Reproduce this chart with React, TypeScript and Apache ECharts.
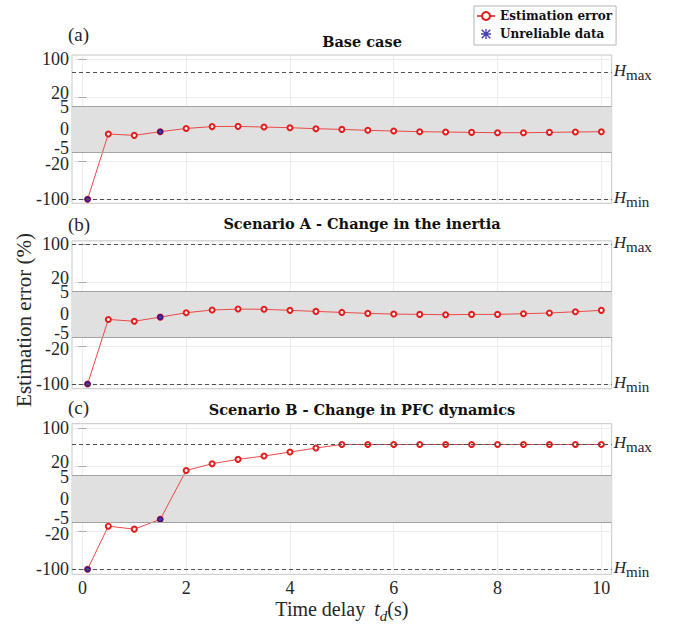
import React, { useEffect, useRef } from 'react';
import * as echarts from 'echarts';

// ---------- data ----------
const timeDelay = [0.1, 0.5, 1, 1.5, 2, 2.5, 3, 3.5, 4, 4.5, 5, 5.5, 6, 6.5, 7, 7.5, 8, 8.5, 9, 9.5, 10];
const errBaseCase = [-100, -1.0, -1.3, -0.5, 0.2, 0.6, 0.65, 0.5, 0.37, 0.15, 0.0, -0.2, -0.35, -0.5, -0.57, -0.65, -0.72, -0.72, -0.65, -0.57, -0.5];
const errScenarioA = [-100, -1.1, -1.5, -0.6, 0.36, 0.94, 1.15, 1.1, 0.87, 0.65, 0.43, 0.22, 0.07, 0, -0.07, 0, 0, 0.15, 0.3, 0.57, 0.87];
const errScenarioB = [-100, -11.5, -16.3, -4.4, 13.3, 25.5, 34.7, 41.7, 50, 58.5, 66, 66, 66, 66, 66, 66, 66, 66, 66, 66, 66];
const unreliableIdx = [0, 3];
const hMaxValues = [71.5, 100, 66];
const hMinValue = -100;
const bandLimit = 5;
const yTickValues = [-100, -20, -5, 0, 5, 20, 100];
const yTickLabels = ['-100', '-20', '-5', '0', '5', '20', '100'];
const xTickValues = [0, 2, 4, 6, 8, 10];
const xTickLabels = ['0', '2', '4', '6', '8', '10'];
const panelTitles = ['Base case', 'Scenario A - Change in the inertia', 'Scenario B - Change in PFC dynamics'];
const panelTags = ['(a)', '(b)', '(c)'];
const panelSeries = [errBaseCase, errScenarioA, errScenarioB];

// display scale of the y axis (piecewise, like the symmetric-log style axis of the figure)
const yScaleKnots = [-70, -32.3, -23, 0, 23.3, 32.6, 70.5];
function tf(v: number): number {
  const V = yTickValues, K = yScaleKnots;
  let i = 0;
  if (v <= V[0]) i = 0;
  else if (v >= V[V.length - 1]) i = V.length - 2;
  else { while (!(v >= V[i] && v <= V[i + 1])) i++; }
  return K[i] + (v - V[i]) * (K[i + 1] - K[i]) / (V[i + 1] - V[i]);
}

// ---------- layout ----------
const GRID_LEFT = 72;
const GRID_WIDTH = 539.7;
const layout = [
  { top: 55, height: 148.3, yMin: -74.0, yMax: 74.5, titleY: 41.5, tagY: 34.5 },
  { top: 240.8, height: 147.9, yMin: -74.7, yMax: 74.0, titleY: 223, tagY: 224 },
  { top: 423.7, height: 150.6, yMin: -75.0, yMax: 75.1, titleY: 409, tagY: 407.5 },
];
const RED = '#e31c1c';
const RED_LINE = '#e84a48';
const BLUE = '#16109a';
const TXT = '#262626';
const SERIF = 'Liberation Serif';
const BOLD_SERIF = 'DejaVu Serif';
const ASTERISK = 'path://M4.3,0H5.7V10H4.3Z M0,4.3H10V5.7H0Z M1.2,0.2L9.8,8.8L8.8,9.8L0.2,1.2Z M8.8,0.2L9.8,1.2L1.2,9.8L0.2,8.8Z';
// vertical nudges of crowded tick labels (as in the figure)
const labelNudge: Record<string, string> = { '20': 'u', '-5': 'u', '-20': 'd', '5': 'd1' };

function nearestIndex(val: number, vals: number[]) {
  let best = 0;
  for (let i = 1; i < vals.length; i++) if (Math.abs(vals[i] - val) < Math.abs(vals[best] - val)) best = i;
  return best;
}

function buildOption() {
  const grids: any[] = [];
  const xAxes: any[] = [];
  const yAxes: any[] = [];
  const series: any[] = [];
  const graphics: any[] = [];
  const yCustom = yTickValues.map(tf);
  const hRich = {
    h: { fontFamily: SERIF, fontStyle: 'italic', fontSize: 17, color: TXT, verticalAlign: 'bottom', padding: [0, 0, 3, 0] },
    s: { fontFamily: SERIF, fontSize: 15, color: TXT, verticalAlign: 'bottom' },
  };
  const tickRich = {
    n: { fontFamily: SERIF, fontSize: 18, color: TXT, lineHeight: 12 },
    u: { fontFamily: SERIF, fontSize: 18, color: TXT, lineHeight: 12, padding: [0, 0, 8, 0] },
    d: { fontFamily: SERIF, fontSize: 18, color: TXT, lineHeight: 12, padding: [5, 0, 0, 0] },
    d1: { fontFamily: SERIF, fontSize: 18, color: TXT, lineHeight: 12, padding: [2, 0, 0, 0] },
  };

  layout.forEach((L, p) => {
    grids.push({ left: GRID_LEFT, width: GRID_WIDTH, top: L.top, height: L.height, show: true, borderColor: '#c6c6c6', borderWidth: 1, backgroundColor: 'transparent', containLabel: false, outerBoundsMode: 'none' });
    const isBottom = p === 2;
    xAxes.push({
      gridIndex: p, type: 'value', min: -0.2, max: 10.2, position: 'bottom',
      axisLine: { show: false },
      axisTick: { show: true, inside: true, length: 4, customValues: xTickValues, lineStyle: { color: '#a8a8a8' } },
      axisLabel: { show: isBottom, customValues: xTickValues, formatter: (v: number) => xTickLabels[nearestIndex(v, xTickValues)], fontFamily: SERIF, fontSize: 18, color: TXT, margin: 5 },
      splitLine: { show: true, lineStyle: { color: '#ececec', width: 1 } },
      name: isBottom ? '{a|Time delay }{t|t}{d|d}{a|(s)}' : '',
      nameLocation: 'middle', nameGap: 25,
      nameTextStyle: {
        rich: {
          a: { fontFamily: SERIF, fontSize: 20, color: TXT, verticalAlign: 'bottom', padding: [0, 0, 4, 0] },
          t: { fontFamily: SERIF, fontStyle: 'italic', fontSize: 20, color: TXT, verticalAlign: 'bottom', padding: [0, 0, 4, 4] },
          d: { fontFamily: SERIF, fontStyle: 'italic', fontSize: 15, color: TXT, verticalAlign: 'bottom' },
        },
      },
    });
    xAxes.push({
      gridIndex: p, type: 'value', min: -0.2, max: 10.2, position: 'top',
      axisLine: { show: false },
      axisTick: { show: true, inside: true, length: 4, customValues: xTickValues, lineStyle: { color: '#a8a8a8' } },
      axisLabel: { show: false }, splitLine: { show: false },
    });
    yAxes.push({
      gridIndex: p, type: 'value', min: L.yMin, max: L.yMax, position: 'left',
      axisLine: { show: false },
      axisTick: { show: true, inside: true, length: 4, customValues: yCustom, lineStyle: { color: '#a8a8a8' } },
      axisLabel: {
        customValues: yCustom,
        formatter: (v: number) => {
          const lab = yTickLabels[nearestIndex(v, yCustom)];
          return '{' + (labelNudge[lab] || 'n') + '|' + lab + '}';
        },
        rich: tickRich, fontFamily: SERIF, fontSize: 18, color: TXT, margin: 3,
      },
      splitLine: { show: true, lineStyle: { color: '#ececec', width: 1 } },
    });
    yAxes.push({
      gridIndex: p, type: 'value', min: L.yMin, max: L.yMax, position: 'right',
      axisLine: { show: false },
      axisTick: { show: true, inside: true, length: 4, customValues: yCustom, lineStyle: { color: '#a8a8a8' } },
      axisLabel: { show: false }, splitLine: { show: false },
    });

    const vals = panelSeries[p];
    const dashStyle = { type: [4, 3], color: '#505050', width: 1 };
    const bandStyle = { type: 'solid', color: '#a3a3a3', width: 1 };
    series.push({
      name: 'Estimation error', type: 'line', xAxisIndex: 2 * p, yAxisIndex: 2 * p,
      data: timeDelay.map((t, i) => [t, tf(vals[i])]),
      symbol: 'emptyCircle', symbolSize: 5,
      lineStyle: { color: RED_LINE, width: 1 },
      itemStyle: { color: RED, borderWidth: 1.2 },
      z: 3,
      markArea: {
        silent: true,
        itemStyle: { color: '#e0e0e0' },
        data: [[{ yAxis: tf(-bandLimit) }, { yAxis: tf(bandLimit) }]],
      },
      markLine: {
        silent: true, symbol: ['none', 'none'],
        data: [
          { yAxis: tf(bandLimit), lineStyle: bandStyle, label: { show: false } },
          { yAxis: tf(-bandLimit), lineStyle: bandStyle, label: { show: false } },
          { yAxis: tf(hMaxValues[p]), lineStyle: dashStyle, label: { show: true, position: 'end', distance: 2, formatter: '{h|H}{s|max}', rich: hRich } },
          { yAxis: tf(hMinValue), lineStyle: dashStyle, label: { show: true, position: 'end', distance: 2, formatter: '{h|H}{s|min}', rich: hRich } },
        ],
      },
    });
    series.push({
      name: 'Unreliable data', type: 'scatter', xAxisIndex: 2 * p, yAxisIndex: 2 * p,
      data: unreliableIdx.map((i) => [timeDelay[i], tf(vals[i])]),
      symbol: 'circle', symbolSize: 6,
      itemStyle: { color: BLUE },
      z: 4,
    });

    graphics.push({
      type: 'text', x: 362, y: L.titleY,
      style: { text: panelTitles[p], fontFamily: BOLD_SERIF, fontWeight: 'bold', fontSize: 14.5, fill: '#111', textAlign: 'center', textVerticalAlign: 'middle' },
    });
    graphics.push({
      type: 'text', x: 68, y: L.tagY,
      style: { text: panelTags[p], fontFamily: SERIF, fontSize: 19, fill: TXT, textAlign: 'left', textVerticalAlign: 'middle' },
    });
  });

  graphics.push({
    type: 'text', x: 24, y: 320, rotation: Math.PI / 2,
    style: { text: 'Estimation error (%)', fontFamily: SERIF, fontSize: 21, fill: TXT, textAlign: 'center', textVerticalAlign: 'middle' },
  });

  return {
    animation: false,
    backgroundColor: '#ffffff',
    textStyle: { fontFamily: SERIF },
    grid: grids,
    xAxis: xAxes,
    yAxis: yAxes,
    series,
    graphic: graphics,
    legend: {
      data: [{ name: 'Estimation error' }, { name: 'Unreliable data', icon: ASTERISK }],
      orient: 'vertical', left: 474, top: 6,
      padding: [4, 4, 5, 2], itemWidth: 18, itemHeight: 10, itemGap: 6,
      borderColor: '#b5b5b5', borderWidth: 1, backgroundColor: '#ffffff',
      selectedMode: false,
      textStyle: { fontFamily: BOLD_SERIF, fontWeight: 'bold', fontSize: 12, color: '#111' },
    },
  };
}

export default function App() {
  const ref = useRef<HTMLDivElement>(null);
  useEffect(() => {
    const chart = echarts.init(ref.current as HTMLDivElement, null, { renderer: 'svg' });
    chart.setOption(buildOption() as any);
    return () => chart.dispose();
  }, []);
  return <div ref={ref} style={{ position: 'fixed', left: 0, top: 0, width: 676, height: 629, background: '#fff' }} />;
}
